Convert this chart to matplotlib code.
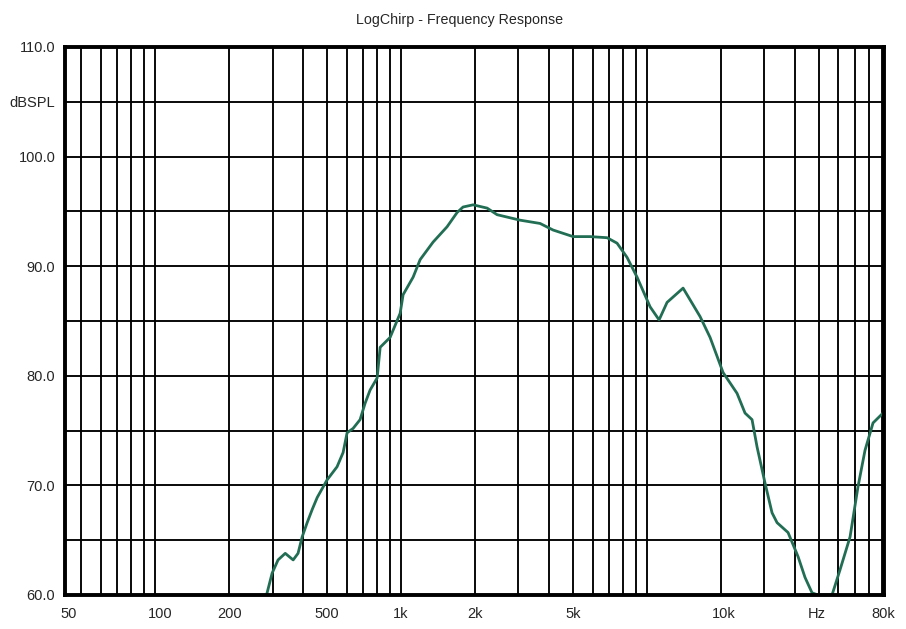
import numpy as np
import matplotlib
matplotlib.use("Agg")
import matplotlib.pyplot as plt

# Frequenzgang, Werte
freq_hz = [283, 299, 316, 338, 364, 381, 396, 415, 435, 456, 500, 549, 581, 603,
           638, 681, 714, 748, 799, 822, 902, 991, 1019, 1119, 1195, 1349, 1538,
           1689, 1786, 1962, 2237, 2456, 3045, 3673, 4149, 5003, 5867, 6877, 7551,
           8294, 9107, 10285, 11190, 12060, 14010, 16430, 18040, 20370, 23220,
           25020, 26720, 28010, 30180, 32220, 33770, 37430, 41110, 43880, 46850,
           49560, 56490, 60890, 66880, 72070, 76930, 82930, 91060]
spl_db = [59.9, 62.0, 63.2, 63.8, 63.2, 63.8, 65.3, 66.6, 67.8, 68.9, 70.5, 71.7,
          73.0, 74.8, 75.2, 76.0, 77.5, 78.7, 79.8, 82.6, 83.5, 85.7, 87.4, 89.0,
          90.6, 92.2, 93.6, 94.9, 95.4, 95.6, 95.3, 94.7, 94.2, 93.9, 93.3, 92.7,
          92.7, 92.6, 92.1, 90.8, 89.0, 86.3, 85.1, 86.7, 88.0, 85.4, 83.5, 80.3,
          78.4, 76.6, 76.0, 73.5, 70.2, 67.5, 66.6, 65.7, 63.5, 61.6, 60.2, 60.0,
          60.0, 62.3, 65.3, 69.9, 73.2, 75.7, 76.6]

# Achsenbeschriftung (Software setzt die Labels etwas eigenwillig)
xtick_pos = [44.3, 105, 200, 500, 1000, 2000, 5000, 20500, 49000, 91500]
xtick_labels = ["50", "100", "200", "500", "1k", "2k", "5k", "10k", "Hz", "80k"]
ytick_pos = [60, 70, 80, 90, 100, 105, 110]
ytick_labels = ["60.0", "70.0", "80.0", "90.0", "100.0", "dBSPL", "110.0"]

plt.rcParams['font.family'] = ['Liberation Sans', 'DejaVu Sans']

fig = plt.figure(figsize=(9.06, 6.29), dpi=100)
ax = fig.add_axes([65/906, 1 - 595/629, (884 - 65)/906, (595 - 47)/629])

# Gitter: jede Dekade 1..9, horizontal alle 5 dB
grid_f = [m * 10**d for d in range(1, 5) for m in range(1, 10)]
for f in grid_f:
    ax.axvline(f, color="black", lw=1.35, zorder=1)
for y in np.arange(60, 111, 5):
    ax.axhline(y, color="black", lw=1.35, zorder=1)

ax.plot(freq_hz, spl_db, color="#226e55", lw=2.0, zorder=3, clip_on=True)

ax.set_xscale("log")
ax.set_xlim(43.0, 91900)
ax.set_ylim(60, 110)
ax.set_xticks(xtick_pos)
ax.set_xticklabels(xtick_labels)
ax.minorticks_off()
ax.set_yticks(ytick_pos)
ax.set_yticklabels(ytick_labels)
ax.tick_params(length=0, labelsize=10.5, colors="#262626")
ax.tick_params(axis="x", pad=9)
ax.tick_params(axis="y", pad=7)

for s in ax.spines.values():
    s.set_linewidth(2.8)
    s.set_color("black")
    s.set_zorder(4)

fig.text(460/906, 1 - 20/629, "LogChirp - Frequency Response", ha="center",
         va="center", fontsize=10.3, color="#262626")

fig.savefig("out.png", dpi=100)
